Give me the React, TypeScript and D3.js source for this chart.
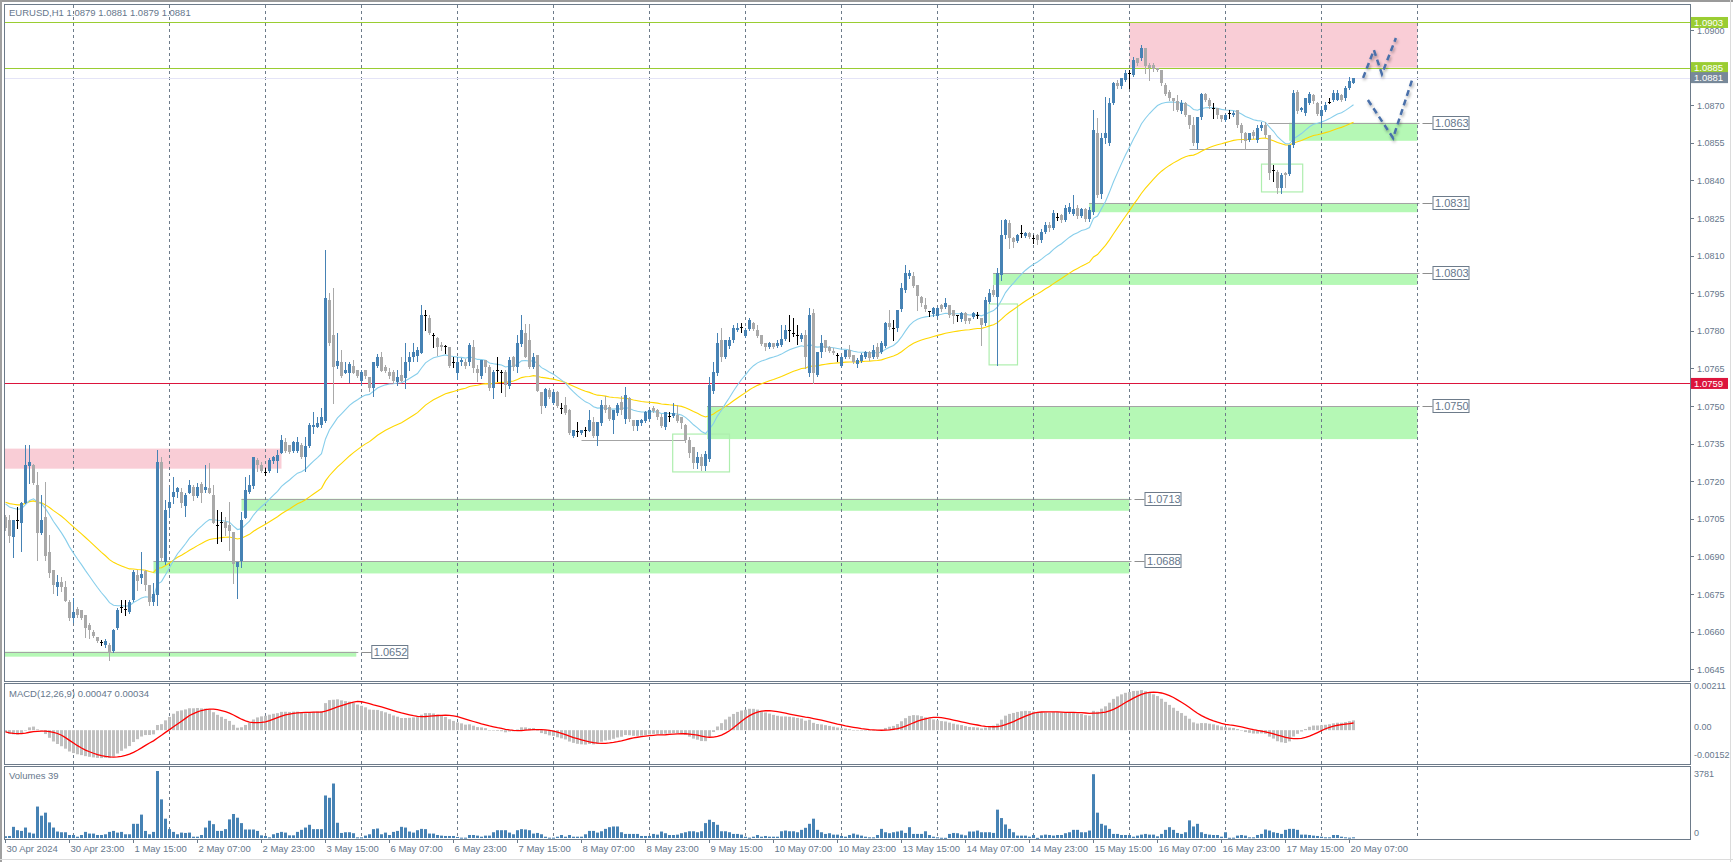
import * as d3 from 'd3'

// price data: open, high, low, close in pips above BASE
const BASE = 1.06
const candles: number[][] = [
  [105.8,106.5,100.5,101.2],[104.5,106.5,95.9,98.1],[97.6,104.5,89.6,104.5],[104.5,109.8,101.5,104.5],[103.4,111.8,92.3,111.2],
  [111.4,134.4,111.2,126.5],[126.2,134.4,119.1,127.8],[126.5,127,119,119.4],[118.5,123.8,88.5,99.5],[99.5,114.5,99,104.5],
  [105.8,119.5,88.5,90.3],[91.6,98.5,81.9,83.5],[84.6,84.6,75.3,78.6],[77.6,82.6,74.6,79.9],[79.9,81.9,76.3,77.6],
  [77.6,80.3,72.3,72.3],[71.9,72.6,64.6,65.5],[65.5,73.3,63.9,67.7],[69,69.9,66,66.6],[68.6,68.6,65,65.5],
  [66.6,66.6,58,61.6],[62.6,63.3,57.3,60.6],[60,60.6,57.7,58.2],[58,58,56,56.4],[55.7,56.6,54.6,55.7],
  [54.6,56.9,54,56.2],[54.6,55.3,48.7,51.6],[52.4,61,52,60.6],[61.6,69.3,61,68.6],[69.9,72.6,67.9,69.9],
  [69,72.6,66.6,69],[67.9,72.6,67.3,71.9],[72.6,84.6,72.3,83.9],[82.6,84.6,76.6,80.3],[81.5,91.9,79.2,82.8],
  [84.2,84.6,76.6,78.6],[78.6,78.6,70.6,71.7],[71.7,79.2,70.6,74.9],[74.6,132.4,70.6,127.8],[127.8,129.8,88.5,89.2],
  [87.9,112.5,86.8,108.5],[109.2,117.8,105.8,111.8],[113.5,121.8,111.2,115.8],[115.8,117.8,113.8,117.1],[115.8,117.1,109.8,111.4],
  [110.1,115.1,106.2,114.5],[115.4,120.5,115.1,118.5],[117.8,118.5,112.5,114.2],[114.1,119.1,113.8,117.8],[118.7,119.8,111.8,115.4],
  [116.5,126.5,115.8,117.8],[117.1,127.1,115.1,115.4],[114.5,118.5,103.2,103.4],[102.5,108.5,95.5,102.5],[103.6,107.8,96.3,103.6],
  [103.6,105.8,98.5,101.5],[102.5,111.8,92.5,100.1],[99.9,99.9,79.5,86.8],[85.6,87.9,73.3,87.9],[88.3,107.8,85.6,104.5],
  [105.4,121.8,105.2,116.5],[115.5,122.5,115.1,118.5],[118.1,129.8,117.1,129.5],[128.4,129.1,124.2,126.5],[126.5,127.8,123.8,124.2],
  [123.5,125.1,122.5,123.5],[124.2,129.1,123.8,128.4],[128.2,130.2,127.1,129.8],[128.2,132.4,123.5,130.4],[131.4,138.4,131.1,136.4],
  [135.6,137.1,131.8,132.2],[134.3,134.4,131.1,131.8],[132,136,131.8,135.6],[132.2,137.8,131.8,135.6],[134.6,135.1,129.1,129.5],
  [129.5,137.8,124.2,134],[134,143.3,133.8,142.4],[141.5,147.7,139.1,142.4],[141.7,145.7,141.5,143.1],[142.4,149.4,141.7,145.7],
  [144.1,212.2,143.7,192.9],[192.3,194.9,174.3,175],[178.3,196.9,151.1,165.4],[165.9,179,165,168.1],[167.4,172.3,161.7,162],
  [163.3,167.7,163,164.3],[163.3,167.7,159.7,166.6],[166.1,168.3,163,163.3],[164.3,164.3,161.5,161.9],[160.1,164.3,158.2,163.7],
  [164.3,164.5,161,161.9],[161.7,161.7,156.1,157.3],[157.3,167.7,153.9,167.7],[166.1,170.7,165.5,169.6],[169.6,171.6,164,164.1],
  [165.7,166.3,163.5,164.1],[163.7,165,161,162],[163.7,164.3,159,160.1],[159.4,164.3,158.2,161.7],[162.3,169.7,159.8,160.1],
  [161.3,175.2,157.3,167.7],[167.7,171.6,164.3,169.4],[169.4,175.2,168.1,171.6],[170.1,173.6,168.1,172.3],[171.3,190.3,171.3,186.3],
  [186.3,188.3,180.3,186.3],[185,186.3,178.7,179],[178.3,179.2,173.4,178.3],[177,177.6,170.3,173.4],[174.3,175.6,172.3,173.4],
  [173.9,174.3,171.3,173.9],[173.4,173.4,165.5,166.1],[167.5,169.6,165.7,167.5],[163.3,169.6,160.9,167.4],[167.4,169,166.5,168.3],
  [167.4,168.6,165,166.1],[167.4,175.2,166.5,174.3],[173.6,176.3,163.4,165],[164.6,166.3,160.1,163.3],[161.9,168.3,161,168.3],
  [168.3,168.3,163.7,165.4],[165.7,166.5,156.5,157],[157,164.3,153.3,163.7],[164.3,169.4,160.1,164.3],[163.7,164.3,155.4,163.7],
  [163.7,164.3,154.1,158.4],[158,169.6,157,168.3],[169.6,169.9,164.3,165.7],[165.4,178.3,163.4,175],[174.7,186.3,174,180.3],
  [179.2,182.7,169.4,169.6],[176.3,182.7,165,165.4],[165.4,171,165,169.6],[170.3,170.3,156,156.1],[155.7,155.7,147.4,150],
  [150,157,149.5,156.6],[156.4,157,153,153.7],[151.3,156.2,150.8,155.7],[155.7,156,149.5,150],[149.4,151,147.3,149.4],
  [150.4,153.7,147,147.3],[148.4,148.8,139,139.3],[138,140.4,137.7,140.4],[140.1,143.7,138,140.1],[139.3,140.6,139,140.4],
  [140.4,141.7,138.1,140.4],[140,148.4,140,144.4],[143.7,145.7,137.5,138],[138,143.7,134.4,143.7],[143.3,152.4,142.5,150.4],
  [150.4,154,147.5,148.4],[149.7,150.4,144.6,145],[144.4,148.4,139.3,148.4],[147.4,151,146.5,150.4],[151.7,154,147,148.4],
  [145,157.7,143.3,154.4],[153,153.7,144,145],[144.6,144.6,140.4,142],[142,144.4,140.4,144.4],[143.3,145,142.5,144.6],
  [144.1,148.2,143.8,147.7],[145,149,144.5,148.4],[149.4,150,147.5,148.1],[148.4,149,145,145.7],[145.7,147,141.5,142],
  [141.7,147.7,141,147.7],[146.1,147.7,144.1,146.1],[146.1,151,145.5,147.4],[146.4,150.4,143.5,144.1],[145.7,145.7,141.1,143.3],
  [142.4,142.7,135.8,136.4],[136.4,137.7,129.8,131.1],[133.7,133.7,125.1,127.4],[127.4,131.8,125.1,129.8],[129.8,131,124.5,126],
  [126,132,124.5,131],[129,161.7,128,158.4],[156,167.7,155,163.7],[163.3,179,162.5,175],[176.3,181,168.1,169.4],
  [169.4,176.5,169,176.3],[174,177.6,173,176.3],[176.3,182.3,175.5,181],[180.2,183,180,181],[181.4,183,179.6,181.4],
  [177.9,181,177.5,180.3],[180.8,185,180.5,184.3],[183,183.6,180.3,180.8],[180.3,182.3,177.5,177.9],[178.3,178.3,174.3,174.7],
  [175.3,175.3,172.3,173.7],[173.7,175.6,173,175],[175,175.3,173.3,173.7],[174,176.3,173.5,175.3],[174.3,182.3,174,176.6],
  [176.6,182.3,176.3,180.3],[180.3,186.3,175.9,180.3],[179,185,177.9,179],[178.3,182.3,174.6,178.3],[176.7,179,176,178.3],
  [178.3,180.3,165,169.4],[163.3,188.9,162,186.3],[187,188.6,159.3,163.3],[162.4,171.7,162,171.7],[171.7,178.3,169.7,175],
  [176.3,176.3,172,173],[173.4,174,171.5,172.1],[172.1,173,170.8,171.3],[170.3,171.3,168.1,170.3],[166,170.3,165.7,169.7],
  [169.4,172.5,169,172.3],[172.3,174.3,169,169.4],[170.3,170.3,167,167.7],[166.7,169,165.4,168.3],[168.1,171,167.5,170.3],
  [169.4,172,169,171.7],[171.7,172,168.5,169],[169.4,174.3,169,172.3],[173.7,175,169,169.4],[171.7,176,171,175],
  [173.9,183.5,173.5,183.2],[183,188.3,180.6,181.4],[181,184.3,176.3,181],[181,188.3,180,188.3],[188.6,198.9,188,196.9],
  [196.3,206.2,195.5,202.9],[201.9,204.2,201,202.9],[201.9,203.6,197.5,197.9],[198.3,198.3,188.3,193.9],[193.3,193.9,190,191],
  [190.3,192.9,188,188.6],[188,188,185.9,188],[186.7,189.5,186,189],[185.9,189.5,185.5,189],[190.3,190.5,188,188.6],
  [189.6,192.9,189,190.9],[190.3,190.3,185.5,186.3],[188.3,188.3,183.2,185.9],[186.3,186.3,184,186.3],[184.6,187.5,184,187.2],
  [187.2,187.5,183,184],[185,185,183,184],[185.6,187.5,185,187],[186.3,187.6,185,186.3],[185,185,174.3,182.3],
  [183.2,193.6,182.5,192.3],[191.6,196.5,191,195.2],[196.3,198.3,194,194.3],[193.5,205,166.5,203],[202.2,224.2,200.3,218.2],
  [218.2,224.8,217,224.2],[222.9,224.2,212.9,216.9],[216.9,217.5,213.3,215.5],[216,218.5,215.5,218.2],[218.9,222.2,217.5,218.9],
  [217.8,219.5,217.5,219.1],[219.1,219.5,217,217.5],[216.9,218.2,214.9,216.9],[218.2,218.5,214.5,216.2],[216.2,220.5,215.5,219.5],
  [219.5,223.5,219,222.3],[222.3,223.5,220,221],[221,228,220.5,226.9],[225.5,226.9,224.2,225.5],[226,226.5,223.5,224.2],
  [224.2,230.2,224,228.9],[227.5,230.9,227,229.5],[226.5,234.2,226,228.5],[228.9,230.2,225,225.8],[225.8,229,225.5,228.5],
  [228.5,229,224,224.5],[224.5,229.5,224,228.2],[227.5,268.1,226.5,260.1],[259,264.8,233.5,234.2],[234.5,259,233,257],
  [256.8,273.4,254.8,258.8],[254.8,273,254,270.8],[271,279.4,270.5,278.7],[278.7,280,277,277.7],[277.7,281,277,280.7],
  [280,284,279.5,282.7],[283,284,276.7,283],[282.1,289.4,281.5,288],[288.7,289,286,286.7],[288.7,294,288,292.7],
  [292.7,292.7,282.7,285.6],[286,286.7,280,284.7],[286,286.7,283.5,284.3],[284.7,285,283.5,284],[284,284,278,278.7],
  [278,278.7,274,274.5],[275.4,276,272,272.8],[272.8,272.8,268.1,271.8],[271.7,274,267.5,268.1],[267.8,272.1,267,270.8],
  [270.8,271.4,265.5,266.1],[266.1,266.1,260.8,262.1],[262.1,265.4,254,254.8],[254.8,265.4,252.8,265.4],[265.4,275,264.5,274.5],
  [274.5,275,271.5,272.1],[272.1,272.8,269,269.7],[268.8,270.8,264.8,268.8],[268.8,268.8,265,266.1],[266.1,266.1,263.5,264.5],
  [264.1,266.5,263.5,266.1],[266.8,268.1,264.8,266.8],[266.1,267.5,265.5,266.8],[268.1,268.1,261.5,262.1],[262.1,262.8,255.5,258.8],
  [259.1,259.5,252.4,255.9],[256.1,259.1,255.9,258.8],[259.5,260.1,257,257.7],[256.1,262.1,255.5,260.8],[260.8,263.1,260.2,262.1],
  [262.1,263.1,257.5,258.1],[258.1,258.1,240.4,242.8],[244.2,246.2,239.9,244.2],[243.5,244.2,234.9,236.8],[236.8,242.8,234.9,242.2],
  [243.1,243.5,237.5,242.2],[242.6,254.1,242.2,254.1],[254.1,276.1,253.5,275],[275.4,276.1,267,267.8],[268.1,269.4,267.8,268.8],
  [266.8,273,266,272.8],[271,275.4,270.5,274.5],[274,274.5,271,271.7],[271,271.4,266,266.5],[265.7,269.7,261.5,268.1],
  [268.1,271.4,267.5,270.1],[271.4,272.8,270.8,271.4],[272.1,276.1,271.5,274.7],[272.1,276.1,272,274.7],[274,274.5,271.5,272.1],
  [272.8,277.7,272,276.7],[276.7,281.4,276.5,279.5],[279,281,279,281],
]

const volumes: number[] = [
  100,115,630,440,400,590,305,250,1775,1260, 1430,880,590,365,325,325,170,170,75,170,
  345,250,250,170,170,210,345,400,305,345, 210,210,800,800,1320,400,210,345,3781,2180,
  1090,500,345,210,305,285,305,75,75,170, 590,975,780,400,400,500,1050,1355,1145,840,
  480,480,480,400,150,115,40,210,285,345, 305,150,150,345,460,590,745,500,500,500,
  2400,2270,3075,860,285,325,325,270,40,40, 135,210,500,535,210,305,170,345,400,630,
  590,365,305,440,515,500,250,250,170,135, 115,115,115,60,20,20,170,170,135,75,
  135,135,325,440,440,440,305,210,440,500, 480,440,250,285,210,75,20,20,75,170,
  75,170,75,75,75,210,400,400,305,380, 515,610,650,650,325,230,230,230,230,115,
  115,115,230,190,365,270,170,170,190,270, 325,380,380,325,380,840,1030,900,745,380,
  380,325,230,230,190,75,20,75,170,75, 115,75,75,75,380,420,380,380,325,460,
  575,800,1090,460,325,230,270,190,190,115, 75,170,250,190,135,75,40,40,170,515,
  325,270,325,365,420,285,610,230,230,230, 380,170,75,40,15,10,230,285,270,190,
  150,365,365,420,325,325,325,285,1600,1125, 765,515,325,135,135,135,75,170,10,150,
  190,170,135,170,170,270,325,460,460,325, 325,420,3600,1430,800,710,515,230,230,170,
  170,170,75,135,190,230,190,190,95,230, 460,610,460,285,230,325,995,650,800,325,
  230,190,170,170,75,325,15,20,135,170, 135,40,40,170,230,480,420,325,285,230,
  460,515,515,460,190,190,170,135,115,75, 40,40,170,170,75,40,20,39,
]

// level of the averages just before the first bar
const priorAverage = 1.0712

const timeLabels = [
  '30 Apr 2024', '30 Apr 23:00', '1 May 15:00', '2 May 07:00', '2 May 23:00', '3 May 15:00',
  '6 May 07:00', '6 May 23:00', '7 May 15:00', '8 May 07:00', '8 May 23:00', '9 May 15:00',
  '10 May 07:00', '10 May 23:00', '13 May 15:00', '14 May 07:00', '14 May 23:00', '15 May 15:00',
  '16 May 07:00', '16 May 23:00', '17 May 15:00', '20 May 07:00',
]
const labelEvery = 16
const dayStartBars = [17, 41, 65, 89, 113, 137, 161, 185, 209, 233, 257, 281, 305, 329, 353]

const priceTicks = [1.09, 1.0885, 1.087, 1.0855, 1.084, 1.0825, 1.081, 1.0795, 1.078, 1.0765, 1.075, 1.0735, 1.072, 1.0705, 1.069, 1.0675, 1.066, 1.0645]

const levels = [
  { price: 1.0903, line: '#9acd32', box: '#9acd32' },
  { price: 1.0885, line: '#9acd32', box: '#9acd32' },
  { price: 1.0881, line: '#e4e4f7', box: '#778899' },
  { price: 1.0759, line: '#dc143c', box: '#dc143c' },
]

const supportZones = [
  { label: '1.0863', top: 1.0863, bottom: 1.08558, from: 320.9, to: 353, lineFrom: 315.7 },
  { label: '1.0831', top: 1.0831, bottom: 1.08273, from: 270.9, to: 353, lineFrom: 270.9 },
  { label: '1.0803', top: 1.0803, bottom: 1.07983, from: 246.9, to: 353, lineFrom: 246.9 },
  { label: '1.0750', top: 1.075, bottom: 1.07368, from: 175.4, to: 353, lineFrom: 175.4 },
  { label: '1.0713', top: 1.0713, bottom: 1.07082, from: 59, to: 281, lineFrom: 59 },
  { label: '1.0688', top: 1.0688, bottom: 1.06832, from: 37, to: 281, lineFrom: 37 },
  { label: '1.0652', top: 1.0652, bottom: 1.065, from: -1, to: 87.7, lineFrom: -1 },
]
const resistanceZones = [
  { top: 1.0903, bottom: 1.0885, from: 281, to: 353 },
  { top: 1.0733, bottom: 1.0725, from: -1, to: 69 },
]
const boxes = [
  { from: 166.8, to: 181, top: 1.07388, bottom: 1.07237 },
  { from: 245.9, to: 253, top: 1.07907, bottom: 1.07664 },
  { from: 314, to: 324.3, top: 1.08465, bottom: 1.08354 },
]
const grayLines = [
  { price: 1.07364, from: 144, to: 170 },
  { price: 1.08525, from: 296, to: 315.7 },
]
const pathUp = [[339.4, 1.08809], [342.1, 1.0892], [344.1, 1.08824], [347.6, 1.08968]]
const pathDown = [[340.6, 1.08721], [346.9, 1.08569], [351.9, 1.08813]]

const macdTicks = [
  { v: 0.00211, t: '0.00211', dy: 3 },
  { v: 0, t: '0.00', dy: 0 },
  { v: -0.00152, t: '-0.00152', dy: -4 },
]

const W = 1733
const H = 862
const L = 4
const R = 1690
const MAIN = { top: 4, bottom: 681 }
const MACD = { top: 683, bottom: 764 }
const VOL = { top: 766, bottom: 839 }
const FONT = "'Liberation Sans', Arial, sans-serif"
const TXT = '#66778c'
const FRAME = '#6d7b8a'

const price = (p: number) => BASE + p / 10000

function sma(arr: number[], n: number) {
  return arr.map((_, i) => d3.mean(arr.slice(Math.max(0, i - n + 1), i + 1)) as number)
}
function ema(arr: number[], n: number, seed: number) {
  const k = 2 / (n + 1)
  let prev = seed
  return arr.map(v => (prev = v * k + prev * (1 - k)))
}

export default function App() {
  const x = d3.scaleLinear().domain([0, 1]).range([5.5, 9.5])
  const y = d3.scaleLinear().domain([1.0645, 1.09]).range([669.2, 30])
  const my = d3.scaleLinear().domain([-0.00152, 0.00211]).range([762, 686])
  const vy = d3.scaleLinear().domain([0, 3781]).range([838, 771])

  const closes = candles.map(c => price(c[3]))
  const maFast = ema(closes, 20, priorAverage)
  const maSlow = ema(closes, 50, priorAverage)
  const e12 = ema(closes, 12, priorAverage)
  const e26 = ema(closes, 26, priorAverage)
  const macd = e12.map((v, i) => v - e26[i])
  const signal = sma(macd, 9)

  const line = d3.line<number>().x((_, i) => x(i)).y(v => y(v))
  const sigLine = d3.line<number>().x((_, i) => x(i)).y(v => my(v))
  const projLine = d3.line<number[]>().x(d => x(d[0])).y(d => y(d[1]))

  const last = candles[candles.length - 1]
  const lastMacd = macd[macd.length - 1]
  const lastSig = signal[signal.length - 1]

  return (
    <div style={{ position: 'absolute', left: 0, top: 0, width: W, height: H, background: '#fff' }}>
      <svg width={W} height={H} style={{ display: 'block', fontFamily: FONT }}>
        <defs>
          <clipPath id="cMain"><rect x={L + 1} y={MAIN.top + 1} width={R - L - 1} height={MAIN.bottom - MAIN.top - 1} /></clipPath>
          <clipPath id="cMacd"><rect x={L + 1} y={MACD.top + 1} width={R - L - 1} height={MACD.bottom - MACD.top - 1} /></clipPath>
          <clipPath id="cVol"><rect x={L + 1} y={VOL.top + 1} width={R - L - 1} height={VOL.bottom - VOL.top - 1} /></clipPath>
          <filter id="shadow" x="-20%" y="-20%" width="140%" height="140%">
            <feDropShadow dx="1" dy="2" stdDeviation="1.6" floodColor="#000" floodOpacity="0.35" />
          </filter>
        </defs>
        <rect x={0} y={0} width={W} height={H} fill="#fff" />
        <line x1={0} x2={W} y1={1} y2={1} stroke="#9a9a9a" strokeWidth={2} />
        <line x1={1} x2={1} y1={0} y2={H} stroke="#a0a0a0" strokeWidth={2} />
        <line x1={W - 2.5} x2={W - 2.5} y1={0} y2={H} stroke="#dcdcdc" />
        <line x1={0} x2={W} y1={H - 2.5} y2={H - 2.5} stroke="#dcdcdc" />

        {/* main panel objects */}
        <g clipPath="url(#cMain)">
          {resistanceZones.map((z, i) => (
            <rect key={'r' + i} x={x(z.from)} width={x(z.to) - x(z.from)} y={y(z.top)} height={y(z.bottom) - y(z.top)} fill="#f9cdd6" />
          ))}
          {supportZones.map(z => (
            <g key={z.label}>
              <rect x={x(z.from)} width={x(z.to) - x(z.from)} y={y(z.top)} height={y(z.bottom) - y(z.top)} fill="#b5f8b5" />
              <line x1={x(z.lineFrom)} x2={x(z.to) + 2} y1={Math.round(y(z.top)) + 0.5} y2={Math.round(y(z.top)) + 0.5} stroke="#a4a4a4" />
              <line x1={x(z.to) + 5} x2={x(z.to) + 15} y1={Math.round(y(z.top)) + 0.5} y2={Math.round(y(z.top)) + 0.5} stroke="#8e8e8e" />
            </g>
          ))}
          {grayLines.map((g, i) => (
            <line key={'g' + i} x1={x(g.from)} x2={x(g.to)} y1={Math.round(y(g.price)) + 0.5} y2={Math.round(y(g.price)) + 0.5} stroke="#a4a4a4" />
          ))}
          {boxes.map((b, i) => (
            <rect key={'b' + i} x={x(b.from)} width={x(b.to) - x(b.from)} y={y(b.top)} height={y(b.bottom) - y(b.top)} fill="none" stroke="#aeeeae" strokeWidth={1.2} />
          ))}
        </g>

        {/* vertical grid */}
        {dayStartBars.map(d => (
          <line key={'d' + d} x1={x(d)} x2={x(d)} y1={MAIN.top + 1} y2={VOL.bottom} stroke={FRAME} strokeDasharray="3,3" />
        ))}

        <g clipPath="url(#cMain)">
          {levels.map(l => (
            <line key={'l' + l.price} x1={L} x2={R} y1={Math.round(y(l.price)) + 0.5} y2={Math.round(y(l.price)) + 0.5} stroke={l.line} strokeWidth={1} />
          ))}
          <path d={line(maSlow) || ''} fill="none" stroke="#ffd700" strokeWidth={1.1} />
          <path d={line(maFast) || ''} fill="none" stroke="#87ceeb" strokeWidth={1.1} />
          {candles.map((c, i) => {
            const [o, h, l, cl] = c
            const cx = x(i)
            const doji = o === cl
            const col = doji ? '#000' : cl > o ? '#4682b4' : '#a9a9a9'
            const top = Math.round(y(price(Math.max(o, cl))))
            const bot = Math.round(y(price(Math.min(o, cl))))
            return (
              <g key={'c' + i}>
                <line x1={cx} x2={cx} y1={Math.round(y(price(h)))} y2={Math.round(y(price(l))) + 1} stroke={col} />
                <rect x={cx - 1.5} width={3} y={top} height={Math.max(1, bot - top)} fill={col} />
              </g>
            )
          })}
          <g filter="url(#shadow)">
            <path d={projLine(pathUp) || ''} fill="none" stroke="#4a70aa" strokeWidth={2.5} strokeDasharray="6,4" />
            <path d={projLine(pathDown) || ''} fill="none" stroke="#4a70aa" strokeWidth={2.5} strokeDasharray="6,4" />
          </g>
        </g>

        {/* zone labels */}
        {supportZones.map(z => {
          const ly = Math.round(y(z.top))
          return (
            <g key={'zl' + z.label}>
              <rect x={x(z.to) + 15.5} y={ly - 6.5} width={36} height={13} fill="#fff" stroke={FRAME} />
              <text x={x(z.to) + 17.5} y={ly + 4} fontSize={11} fill={TXT}>{z.label}</text>
            </g>
          )
        })}

        {/* MACD */}
        <g clipPath="url(#cMacd)">
          {macd.map((v, i) => (
            <rect key={'m' + i} x={x(i) - 1.5} width={3} y={Math.min(my(0), my(v))} height={Math.max(0.5, Math.abs(my(v) - my(0)))} fill="#c0c0c0" />
          ))}
          <path d={sigLine(signal) || ''} fill="none" stroke="#ff0000" strokeWidth={1.3} />
        </g>

        {/* Volumes */}
        <g clipPath="url(#cVol)">
          {volumes.map((v, i) => (
            <rect key={'v' + i} x={x(i) - 1.5} width={3} y={vy(v)} height={Math.max(1, vy(0) - vy(v))} fill="#4682b4" />
          ))}
        </g>

        {/* panel frames */}
        {[MAIN, MACD, VOL].map((p, i) => (
          <rect key={'f' + i} x={L + 0.5} y={p.top + 0.5} width={R - L} height={p.bottom - p.top} fill="none" stroke={FRAME} />
        ))}

        {/* price axis */}
        {priceTicks.map(t => (
          <g key={'t' + t}>
            <line x1={R} x2={R + 4} y1={Math.round(y(t)) + 0.5} y2={Math.round(y(t)) + 0.5} stroke={FRAME} />
            <text x={R + 7} y={y(t) + 3.5} fontSize={9} fill={TXT}>{t.toFixed(4)}</text>
          </g>
        ))}
        {levels.map(l => (
          <g key={'lb' + l.price}>
            <rect x={R + 1} y={y(l.price) - 5.5} width={37} height={11} fill={l.box} />
            <text x={R + 4} y={y(l.price) + 3.5} fontSize={9.5} fill="#fff">{l.price.toFixed(4)}</text>
          </g>
        ))}

        {/* MACD / volume scales */}
        {macdTicks.map(t => (
          <text key={t.t} x={R + 4} y={my(t.v) + t.dy} fontSize={9} fill={TXT}>{t.t}</text>
        ))}
        <text x={R + 4} y={VOL.top + 11} fontSize={9} fill={TXT}>3781</text>
        <text x={R + 4} y={vy(0) - 2} fontSize={9} fill={TXT}>0</text>

        {/* time axis */}
        {timeLabels.map((t, i) => {
          const bx = x(i * labelEvery)
          return (
            <g key={'x' + t}>
              <line x1={bx} x2={bx} y1={VOL.bottom} y2={VOL.bottom + 4} stroke={FRAME} />
              <text x={bx + 1} y={VOL.bottom + 13} fontSize={9.5} fill={TXT}>{t}</text>
            </g>
          )
        })}

        {/* titles */}
        <text x={9} y={16} fontSize={9.5} fill={TXT}>
          {`EURUSD,H1  ${price(last[0]).toFixed(4)} ${price(last[1]).toFixed(4)} ${price(last[2]).toFixed(4)} ${price(last[3]).toFixed(4)}`}
        </text>
        <text x={9} y={697} fontSize={9.5} fill={TXT}>{`MACD(12,26,9) ${lastMacd.toFixed(5)} ${lastSig.toFixed(5)}`}</text>
        <text x={9} y={779} fontSize={9.5} fill={TXT}>{`Volumes ${volumes[volumes.length - 1]}`}</text>
      </svg>
    </div>
  )
}
